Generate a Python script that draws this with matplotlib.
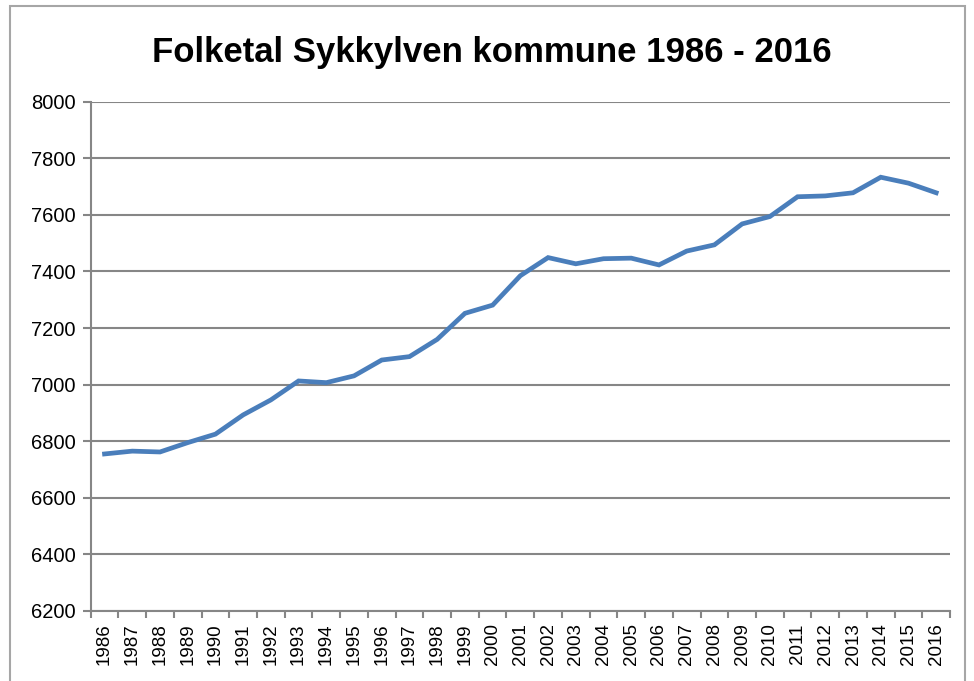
import numpy as np
import matplotlib.pyplot as plt
from matplotlib.patches import Rectangle

# folketal per år, lese av grafen
years = list(range(1986, 2017))
folketal = [6755, 6765, 6762, 6795, 6825, 6893, 6946, 7013, 7007, 7031,
            7087, 7099, 7160, 7252, 7281, 7385, 7449, 7427, 7445, 7447,
            7423, 7472, 7494, 7568, 7594, 7664, 7667, 7678, 7733, 7712, 7678]
yticks = [6200, 6400, 6600, 6800, 7000, 7200, 7400, 7600, 7800, 8000]

plt.rcParams['font.family'] = ['Liberation Sans', 'DejaVu Sans']

fig = plt.figure(figsize=(9.74, 6.81), dpi=100)
ax = fig.add_axes([0.0931, 0.1028, 0.8823, 0.7479])

x = np.arange(len(years))
ax.plot(x, folketal, color='#4a7ebb', linewidth=3.4, solid_joinstyle='miter')

ax.set_xlim(-0.5, len(years) - 0.5)
ax.set_ylim(6200, 8000)
ax.set_yticks(yticks)
ax.set_xticks(x)
ax.set_xticklabels([str(y) for y in years], rotation=90, fontsize=13.5)
ax.set_xticks(np.arange(len(years) + 1) - 0.5, minor=True)
ax.tick_params(axis='x', which='major', length=0, pad=9)
ax.tick_params(axis='x', which='minor', length=5, width=1.5, color='#868686')
ax.tick_params(axis='y', length=6, width=1.5, color='#868686', labelsize=14.5, pad=5)
ax.grid(axis='y', color='#868686', linewidth=1.5)
ax.set_axisbelow(True)
for s in ['top', 'right']:
    ax.spines[s].set_visible(False)
for s in ['left', 'bottom']:
    ax.spines[s].set_color('#868686')
    ax.spines[s].set_linewidth(1.5)

fig.text(0.505, 0.909, 'Folketal Sykkylven kommune 1986 - 2016',
         ha='center', va='baseline', fontsize=25, fontweight='bold')

# ramme rundt diagrammet
fig.patches.append(Rectangle((10/974, -0.1), 955/974, 1.1 - 6/681,
                             transform=fig.transFigure, fill=False,
                             edgecolor='#a6a6a6', linewidth=1.5))

plt.savefig('out.png', dpi=100)
